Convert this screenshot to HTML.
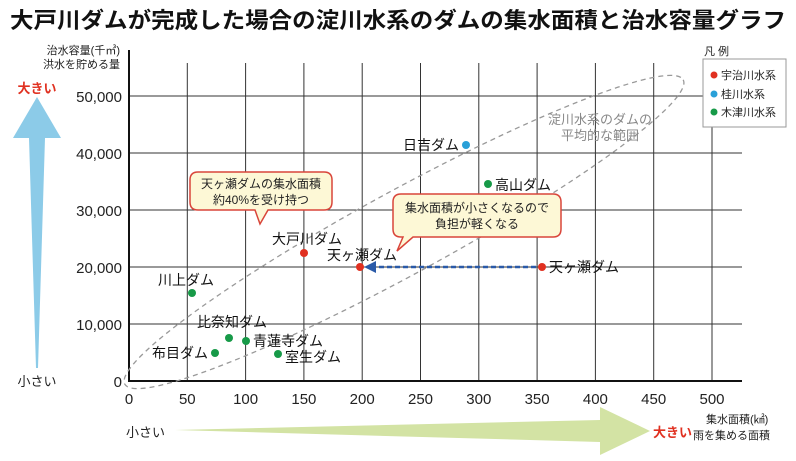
<!DOCTYPE html>
<html><head><meta charset="utf-8"><style>
html,body{margin:0;padding:0;background:#fff;}
svg{display:block;font-family:"Liberation Sans","Noto Sans CJK JP",sans-serif;}
</style></head><body>
<svg width="796" height="461" viewBox="0 0 796 461" xmlns="http://www.w3.org/2000/svg">
<text x="398" y="28" text-anchor="middle" font-size="22" font-weight="bold" fill="#111" textLength="776" lengthAdjust="spacingAndGlyphs">大戸川ダムが完成した場合の淀川水系のダムの集水面積と治水容量グラフ</text>
<text x="120" y="54" text-anchor="end" font-size="11" fill="#222">治水容量(千㎥)</text>
<text x="120" y="68" text-anchor="end" font-size="11" fill="#222">洪水を貯める量</text>
<polygon points="37,97 61,138 45,138 38,368 36,368 29,138 13,138" fill="#8ccbe8"/>
<text x="37" y="93" text-anchor="middle" font-size="13" font-weight="bold" fill="#e03020">大きい</text>
<text x="37" y="386" text-anchor="middle" font-size="13" fill="#222">小さい</text>
<g stroke="#333" stroke-width="1">
<line x1="187.3" y1="63" x2="187.3" y2="381"/><line x1="245.6" y1="63" x2="245.6" y2="381"/>
<line x1="303.9" y1="63" x2="303.9" y2="381"/><line x1="362.2" y1="63" x2="362.2" y2="381"/>
<line x1="420.5" y1="63" x2="420.5" y2="381"/><line x1="478.8" y1="63" x2="478.8" y2="381"/>
<line x1="537.1" y1="63" x2="537.1" y2="381"/><line x1="595.4" y1="63" x2="595.4" y2="381"/>
<line x1="653.7" y1="63" x2="653.7" y2="381"/><line x1="712" y1="127" x2="712" y2="381"/>
<line x1="129" y1="96" x2="703" y2="96"/>
<line x1="129" y1="153" x2="742" y2="153"/><line x1="129" y1="210" x2="742" y2="210"/>
<line x1="129" y1="267" x2="742" y2="267"/><line x1="129" y1="324" x2="742" y2="324"/>
</g>
<line x1="129" y1="50" x2="129" y2="382" stroke="#111" stroke-width="2"/>
<line x1="128" y1="381" x2="742" y2="381" stroke="#111" stroke-width="2"/>
<g font-size="15" fill="#222" text-anchor="end">
<text x="122" y="102">50,000</text><text x="122" y="159">40,000</text><text x="122" y="216">30,000</text>
<text x="122" y="273">20,000</text><text x="122" y="330">10,000</text><text x="122" y="387">0</text>
</g>
<g font-size="15" fill="#222" text-anchor="middle">
<text x="129" y="404">0</text><text x="187.3" y="404">50</text><text x="245.6" y="404">100</text>
<text x="303.9" y="404">150</text><text x="362.2" y="404">200</text><text x="420.5" y="404">250</text>
<text x="478.8" y="404">300</text><text x="537.1" y="404">350</text><text x="595.4" y="404">400</text>
<text x="653.7" y="404">450</text><text x="712" y="404">500</text>
</g>
<polygon points="175,430 600,420 600,407 650,431 600,455 600,442" fill="#d3e3a4"/>
<text x="126" y="437" font-size="13" fill="#222">小さい</text>
<text x="653" y="437" font-size="13" font-weight="bold" fill="#e03020">大きい</text>
<text x="706" y="423" font-size="11" fill="#222">集水面積(㎢)</text>
<text x="693" y="439" font-size="11" fill="#222">雨を集める面積</text>
<ellipse cx="404" cy="232" rx="318" ry="42" transform="rotate(-28.6 404 232)" fill="none" stroke="#999" stroke-width="1.3" stroke-dasharray="5,4"/>
<text x="600" y="124" text-anchor="middle" font-size="13" fill="#888">淀川水系のダムの</text>
<text x="600" y="140" text-anchor="middle" font-size="13" fill="#888">平均的な範囲</text>
<line x1="536" y1="267" x2="372" y2="267" stroke="#2a5aa8" stroke-width="2.5" stroke-dasharray="5,3"/>
<polygon points="364,267 376,261 376,273" fill="#2a5aa8"/>
<g>
<circle cx="466" cy="145" r="4" fill="#29a0d8"/>
<circle cx="488" cy="184" r="4" fill="#179a48"/>
<circle cx="304" cy="253" r="4" fill="#e03020"/>
<circle cx="360" cy="267" r="4" fill="#e03020"/>
<circle cx="542" cy="267" r="4" fill="#e03020"/>
<circle cx="192" cy="293" r="4" fill="#179a48"/>
<circle cx="229" cy="338" r="4" fill="#179a48"/>
<circle cx="246" cy="341" r="4" fill="#179a48"/>
<circle cx="215" cy="353" r="4" fill="#179a48"/>
<circle cx="278" cy="354" r="4" fill="#179a48"/>
</g>
<g font-size="14" fill="#111">
<text x="459" y="150" text-anchor="end">日吉ダム</text>
<text x="495" y="190">高山ダム</text>
<text x="307" y="244" text-anchor="middle">大戸川ダム</text>
<text x="362" y="260" text-anchor="middle">天ヶ瀬ダム</text>
<text x="549" y="272">天ヶ瀬ダム</text>
<text x="186" y="285" text-anchor="middle">川上ダム</text>
<text x="232" y="327" text-anchor="middle">比奈知ダム</text>
<text x="253" y="346">青蓮寺ダム</text>
<text x="208" y="358" text-anchor="end">布目ダム</text>
<text x="285" y="362">室生ダム</text>
</g>
<path d="M198,172 H324 Q332,172 332,180 V202 Q332,210 324,210 H268 L260,224 L255,210 H198 Q190,210 190,202 V180 Q190,172 198,172 Z" fill="#fdf8d6" stroke="#d9453a" stroke-width="1.5"/>
<text x="261" y="188" text-anchor="middle" font-size="12" fill="#222">天ヶ瀬ダムの集水面積</text>
<text x="261" y="204" text-anchor="middle" font-size="12" fill="#222">約40%を受け持つ</text>
<path d="M401,194 H553 Q561,194 561,202 V229 Q561,237 553,237 H413 L397,251 L403,237 H401 Q393,237 393,229 V202 Q393,194 401,194 Z" fill="#fdf8d6" stroke="#d9453a" stroke-width="1.5"/>
<text x="477" y="212" text-anchor="middle" font-size="12" fill="#222">集水面積が小さくなるので</text>
<text x="477" y="228" text-anchor="middle" font-size="12" fill="#222">負担が軽くなる</text>
<text x="704" y="55" font-size="11" fill="#222">凡 例</text>
<rect x="703" y="59" width="83" height="68" fill="#fff" stroke="#999"/>
<circle cx="714" cy="75" r="3.5" fill="#e03020"/><text x="721" y="79" font-size="11" fill="#222">宇治川水系</text>
<circle cx="714" cy="94" r="3.5" fill="#29a0d8"/><text x="721" y="98" font-size="11" fill="#222">桂川水系</text>
<circle cx="714" cy="112" r="3.5" fill="#179a48"/><text x="721" y="116" font-size="11" fill="#222">木津川水系</text>
</svg>
</body></html>
